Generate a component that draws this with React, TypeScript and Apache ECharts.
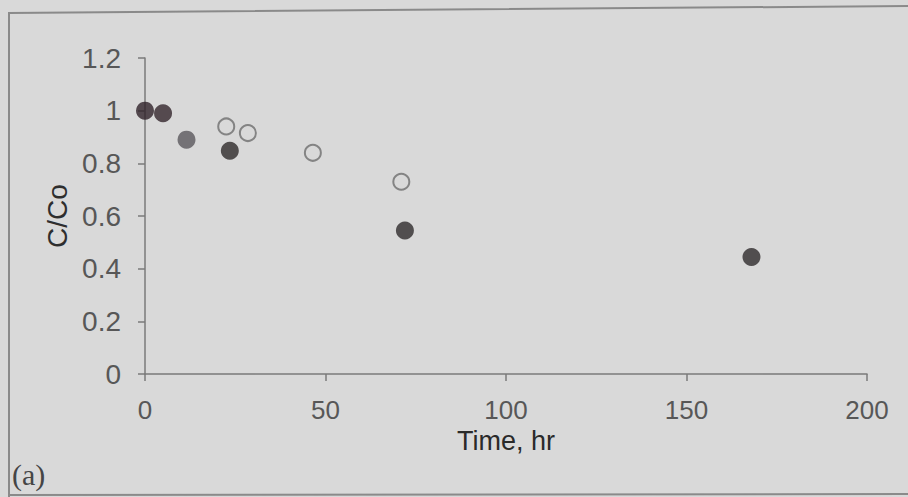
import React, { useEffect, useRef } from "react";
import * as echarts from "echarts";

const xTicks = [0, 50, 100, 150, 200];
const yTicks = [0, 0.2, 0.4, 0.6, 0.8, 1, 1.2];

const filledTime = [0, 5, 11.5, 23.5, 72, 168];
const filledRatio = [1.0, 0.99, 0.89, 0.848, 0.545, 0.444];
const filledColors = ["#2f2229", "#33252c", "#5a585c", "#2e2a2b", "#2e2b2c", "#2e2b2c"];

const openTime = [22.5, 28.5, 46.5, 71];
const openRatio = [0.94, 0.915, 0.84, 0.73];

export default function App() {
  const ref = useRef<HTMLDivElement>(null);
  useEffect(() => {
    if (!ref.current) return;
    const chart = echarts.init(ref.current, undefined, { renderer: "svg" });
    const font = "'Liberation Sans', Arial, sans-serif";
    chart.setOption({
      animation: false,
      backgroundColor: "#d9d9d9",
      grid: { left: 145, right: 41, top: 58, bottom: 123, containLabel: false },
      xAxis: {
        type: "value",
        min: xTicks[0],
        max: xTicks[xTicks.length - 1],
        interval: 50,
        name: "Time, hr",
        nameLocation: "middle",
        nameGap: 49,
        nameTextStyle: { fontFamily: font, fontSize: 27, color: "#2a2a2a" },
        axisLine: { show: true, lineStyle: { color: "#7a7a7a", width: 1.5 } },
        axisTick: { show: true, inside: false, length: 7, lineStyle: { color: "#7a7a7a", width: 1.5 } },
        axisLabel: { fontFamily: font, fontSize: 26, color: "#575757", margin: 23 },
        splitLine: { show: false },
      },
      yAxis: {
        type: "value",
        min: yTicks[0],
        max: yTicks[yTicks.length - 1],
        interval: 0.2,
        name: "C/Co",
        nameLocation: "middle",
        nameGap: 69,
        nameRotate: 90,
        nameTextStyle: { fontFamily: font, fontSize: 28, color: "#2e2e2e" },
        axisLine: { show: true, lineStyle: { color: "#7a7a7a", width: 1.5 } },
        axisTick: { show: true, inside: false, length: 7, lineStyle: { color: "#7a7a7a", width: 1.5 } },
        axisLabel: {
          fontFamily: font,
          fontSize: 28,
          color: "#575757",
          margin: 24,
          formatter: (v: number) => String(Math.round(v * 10) / 10),
        },
        splitLine: { show: false },
      },
      series: [
        {
          type: "scatter",
          symbol: "circle",
          symbolSize: 16,
          itemStyle: { color: "rgba(0,0,0,0)", borderColor: "#6e6e6e", borderWidth: 2 },
          data: openTime.map((t, i) => [t, openRatio[i]]),
          z: 2,
        },
        {
          type: "scatter",
          symbol: "circle",
          symbolSize: 18,
          data: filledTime.map((t, i) => ({
            value: [t, filledRatio[i]],
            itemStyle: { color: filledColors[i] },
          })),
          z: 3,
        },
      ],
      graphic: [
        {
          type: "polyline",
          shape: { points: [[9, 497], [9, 13], [908, 6]] },
          style: { stroke: "#8a8a8a", lineWidth: 2, fill: null },
          silent: true,
        },
        {
          type: "line",
          shape: { x1: 9, y1: 495, x2: 908, y2: 494 },
          style: { stroke: "#8a8a8a", lineWidth: 2 },
          silent: true,
        },
        {
          type: "text",
          left: 12,
          top: 459,
          style: {
            text: "(a)",
            fontFamily: "'Liberation Serif', 'Times New Roman', serif",
            fontSize: 30,
            fill: "#454545",
          },
        },
      ],
    });
    return () => chart.dispose();
  }, []);
  return (
    <div
      ref={ref}
      style={{ position: "absolute", left: 0, top: 0, width: 908, height: 497 }}
    />
  );
}
